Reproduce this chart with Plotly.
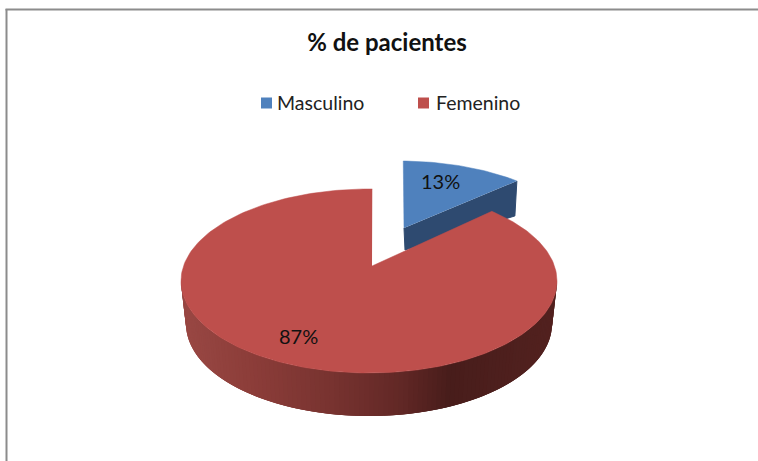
import math
import plotly.graph_objects as go

# Data
TITLE = "% de pacientes"
categories = ["Masculino", "Femenino"]
percentages = [13, 87]

# Styles
BLUE_TOP, BLUE_SIDE = "#4f81bd", "#2e4a70"
RED_TOP = "#be4f4c"
RED_SIDE_STOPS = [(186, (152, 71, 67)), (250, (140, 61, 57)), (330, (120, 51, 48)),
                  (400, (98, 40, 38)), (450, (72, 29, 27)), (555, (82, 33, 31))]
TEXT = "#111111"
# Projection of the tilted pie (pixel-based axes)
RX, RY = 188, 92
RED_CX, RED_CY = 369, 281
RED_APEX = (372, 266)
BLUE_CX, BLUE_CY = 400, 253
BLUE_APEX = (404, 228)
RED_DEPTH, BLUE_DEPTH = 43, 35
START = 1.0
BLUE_SQUEEZE, RED_SQUEEZE = 0.80, 0.85


def rim(cx, cy, a0, a1, n, rx=RX, ry=RY):
    xs, ys = [], []
    for i in range(n + 1):
        t = math.radians(a0 + (a1 - a0) * i / n)
        xs.append(cx + rx * math.sin(t))
        ys.append(cy - ry * math.cos(t))
    return xs, ys


def side_color(x):
    s = RED_SIDE_STOPS
    if x <= s[0][0]:
        c = s[0][1]
    elif x >= s[-1][0]:
        c = s[-1][1]
    else:
        for (x0, c0), (x1, c1) in zip(s, s[1:]):
            if x0 <= x <= x1:
                f = (x - x0) / (x1 - x0)
                c = tuple(c0[k] + (c1[k] - c0[k]) * f for k in range(3))
                break
    return "rgb(%d,%d,%d)" % tuple(round(v) for v in c)


fig = go.Figure()


def poly(xs, ys, color, line=0.0):
    fig.add_trace(go.Scatter(
        x=xs, y=ys, mode="lines", fill="toself", fillcolor=color,
        line=dict(color=color, width=line), hoverinfo="skip", showlegend=False))


blue_end = START + 360 * percentages[0] / 100 * BLUE_SQUEEZE
red_start = START + 360 * percentages[0] / 100 * RED_SQUEEZE

# Blue slice: side, then top
bx, by = rim(BLUE_CX, BLUE_CY, START, blue_end, 40)
poly([BLUE_APEX[0], BLUE_APEX[0] + 1, bx[-1] - 2, bx[-1]],
     [BLUE_APEX[1], BLUE_APEX[1] + BLUE_DEPTH - 13, by[-1] + BLUE_DEPTH, by[-1]], BLUE_SIDE, 1)
poly([BLUE_APEX[0]] + bx, [BLUE_APEX[1]] + by, BLUE_TOP, 0.5)

# Red slice: gradient side in overlapping strips, then top
STRIPS = 120
a0, a1 = 88.0, 272.0  # lower half of the rim, clockwise from the top
step = (a1 - a0) / STRIPS
bot_rx, bot_cy = RX - 5, RED_CY + RED_DEPTH
for i in range(STRIPS):
    p = a0 + step * i
    q = min(a1, p + step * 3)  # overlap hides the seams between strips
    tx, ty = rim(RED_CX, RED_CY, p, q, 3)
    ux, uy = rim(RED_CX, bot_cy, p, q, 3, rx=bot_rx)
    mid = RED_CX + RX * math.sin(math.radians(p + step / 2))
    poly(tx + ux[::-1], ty + uy[::-1], side_color(mid), 0)

rx_, ry_ = rim(RED_CX, RED_CY, red_start, 360 + START, 240)
poly([RED_APEX[0]] + rx_, [RED_APEX[1]] + ry_, RED_TOP, 0.5)

# Legend markers
legend_x = [266.5, 423.5]
fig.add_trace(go.Scatter(
    x=legend_x, y=[103, 103], mode="markers",
    marker=dict(symbol="square", size=11, color=[BLUE_TOP, RED_TOP]),
    hoverinfo="skip", showlegend=False))

annotations = []
for name, x in zip(categories, [275, 433.5]):
    annotations.append(dict(x=x, y=102.5, xref="x", yref="y", text=name, showarrow=False,
                            xanchor="left", yanchor="middle",
                            font=dict(family="Lato", size=19.5, color="#222222")))
for v, (x, y) in zip(percentages, [(440, 180.5), (298, 335.5)]):
    annotations.append(dict(x=x, y=y, xref="x", yref="y", text=f"{v}%", showarrow=False,
                            xanchor="center", yanchor="middle",
                            font=dict(family="Lato", size=20, color=TEXT)))

fig.update_layout(
    width=758, height=461, margin=dict(l=0, r=0, t=0, b=0),
    paper_bgcolor="white", plot_bgcolor="white", showlegend=False,
    title=dict(text=f"<b>{TITLE}</b>", x=387 / 758, xanchor="center", y=1 - 43 / 461, yanchor="middle",
               font=dict(family="Lato", size=24, color="#111111")),
    xaxis=dict(range=[0, 758], visible=False, fixedrange=True),
    yaxis=dict(range=[461, 0], visible=False, fixedrange=True),
    annotations=annotations,
    shapes=[
        dict(type="line", xref="paper", yref="paper", x0=6.5 / 758, x1=6.5 / 758, y0=0, y1=1 - 9 / 461,
             line=dict(color="#8c8c8c", width=2)),
        dict(type="line", xref="paper", yref="paper", x0=5.5 / 758, x1=1, y0=1 - 9.5 / 461, y1=1 - 9.5 / 461,
             line=dict(color="#8c8c8c", width=2)),
    ],
)

fig.write_html("out.html", config={"displayModeBar": False},
               post_script="document.body.style.margin='0';document.body.style.overflow='hidden';")
